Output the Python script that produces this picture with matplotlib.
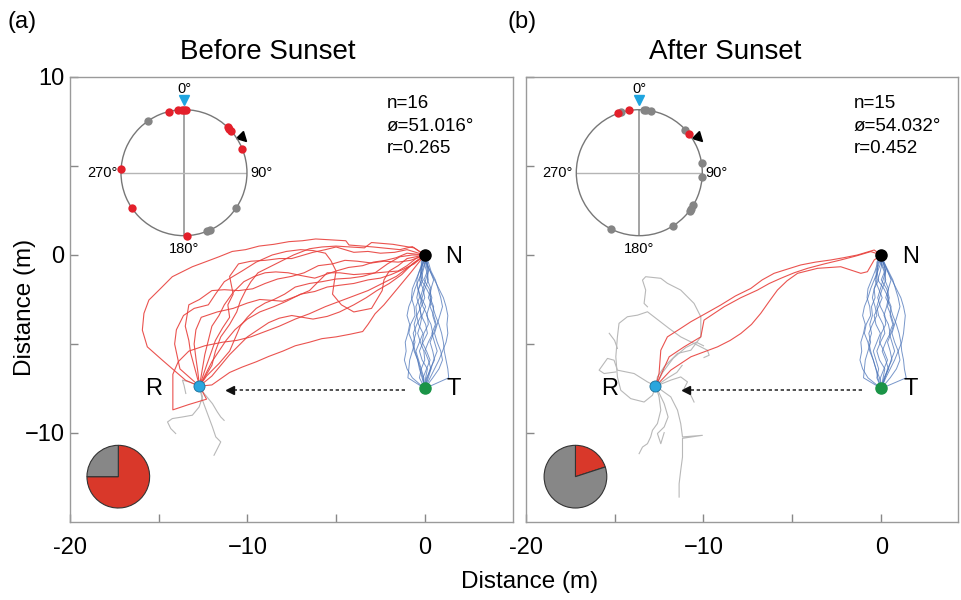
import numpy as np
import matplotlib.pyplot as plt
from matplotlib.markers import MarkerStyle
from matplotlib.transforms import Affine2D

plt.rcParams['font.family'] = ['Liberation Sans', 'DejaVu Sans']

# landmarks (m)
nest = (0.0, 0.0)
target = (0.0, -7.5)
release = (-12.7, -7.37)

panel_titles = ['Before Sunset', 'After Sunset']
panel_tags = ['(a)', '(b)']
n_ants = [16, 15]
mean_dir = ['51.016', '54.032']
r_len = ['0.265', '0.452']

# exit bearings on the circle (deg, clockwise from north)
before_red_deg = [346, 355, 358, 0, 2, 44, 46, 48, 68, 177, 236, 273]
before_gray_deg = [124, 156, 159, 325]
after_red_deg = [340, 351, 52]
after_gray_deg = [4, 6, 11, 47, 81, 94, 121, 125, 127, 148, 207, 343]
arrow_deg = [60, 60]

# pie: oriented (red) vs not oriented (gray)
before_pie = [12, 4]
after_pie = [3, 12]

# tracks (x, y in m)
before_red = [
    [(0, 0), (-0.7, 0.47), (-1.4, 0.3), (-2.2, 0.38), (-2.9, 0.45), (-3.5, 0.5), (-4.27, 0.56), (-4.45, 0.8),
     (-5.3, 0.85), (-6.15, 0.9), (-6.9, 0.8), (-7.65, 0.75), (-8.5, 0.6), (-9.34, 0.5), (-10.1, 0.3),
     (-10.85, 0.2), (-11.6, -0.1), (-12.4, -0.4), (-13.1, -0.66), (-14.23, -1.22), (-14.98, -1.97),
     (-15.55, -2.53), (-15.83, -3.28), (-15.92, -4.22), (-15.64, -5.16), (-14.79, -5.91), (-14.14, -6.47),
     (-13.48, -7.04), (-12.7, -7.37)],
    [(0, 0), (-1.0, 0.3), (-1.7, 0.15), (-2.5, 0.1), (-3.2, 0.2), (-4.0, 0.15), (-5.0, 0.45), (-5.6, 0.3),
     (-6.3, 0.15), (-7.5, -0.2), (-8.2, -0.2), (-9.0, -0.3), (-9.8, -0.35), (-10.5, -0.5), (-11.0, -1.2),
     (-10.8, -2.2), (-11.1, -2.8), (-11.0, -3.5), (-11.4, -4.1), (-11.8, -4.8), (-12.3, -6.2), (-12.7, -7.37)],
    [(0, 0), (-0.8, -0.3), (-1.5, -0.4), (-2.3, -0.35), (-3.0, -0.45), (-3.8, -0.35), (-4.5, -0.3),
     (-5.2, -0.5), (-6.0, -0.6), (-6.8, -1.0), (-7.5, -1.2), (-8.3, -1.35), (-9.0, -1.6), (-9.7, -1.9),
     (-10.5, -2.0), (-11.3, -1.95), (-12.0, -2.0), (-12.7, -2.5), (-13.3, -2.8), (-13.5, -4.0), (-13.3, -4.8),
     (-13.2, -5.5), (-12.9, -6.6), (-12.7, -7.37)],
    [(0, 0), (-0.6, -0.5), (-1.2, -0.8), (-1.9, -1.1), (-2.5, -1.3), (-3.2, -1.4), (-4.0, -1.6), (-4.8, -1.7),
     (-5.5, -1.8), (-6.2, -2.05), (-7.0, -2.2), (-7.8, -2.6), (-8.5, -2.9), (-9.3, -3.2), (-10.0, -3.6),
     (-10.7, -4.2), (-11.2, -4.8), (-11.6, -5.4), (-12.0, -6.0), (-12.7, -7.37)],
    [(0, 0), (-0.4, -0.5), (-0.8, -1.0), (-1.3, -1.6), (-1.8, -2.2), (-2.3, -2.8), (-2.8, -3.3), (-3.2, -3.9),
     (-3.5, -4.3), (-4.2, -4.45), (-5.0, -4.6), (-5.8, -4.7), (-6.5, -4.9), (-7.3, -5.1), (-8.0, -5.4),
     (-8.8, -5.7), (-9.5, -6.0), (-10.3, -6.3), (-11.0, -6.6), (-12.0, -7.3), (-12.7, -7.37)],
    [(0, 0), (-1.0, -0.2), (-1.5, -0.6), (-2.0, -0.9), (-2.3, -1.4), (-2.4, -2.0), (-2.7, -2.5), (-3.0, -3.0),
     (-3.5, -3.1), (-4.0, -3.2), (-4.7, -2.8), (-5.2, -2.2), (-5.1, -1.5), (-5.0, -0.9), (-5.3, -0.3),
     (-5.6, 0.1), (-6.3, 0.25), (-7.0, 0.3), (-7.8, 0.2), (-8.6, 0.0), (-9.5, -0.4), (-10.3, -0.9),
     (-11.3, -1.5), (-11.8, -2.2), (-12.2, -2.8), (-13.0, -3.0), (-13.6, -3.4), (-14.0, -4.2), (-14.1, -5.0),
     (-13.8, -6.4), (-12.7, -7.37)],
    [(0, 0), (-1.0, 0.1), (-1.6, -0.15), (-2.2, -0.3), (-2.9, -0.4), (-3.5, -0.6), (-4.3, -0.7), (-5.0, -0.9),
     (-5.6, -1.1), (-6.2, -1.3), (-7.0, -1.15), (-7.7, -1.0), (-8.4, -0.95), (-9.0, -1.0), (-9.6, -1.2),
     (-10.2, -1.5), (-10.8, -2.1), (-11.3, -2.8), (-11.6, -3.4), (-12.0, -4.0), (-12.2, -4.8), (-12.4, -5.6),
     (-12.7, -7.37)],
    [(0, 0), (-0.8, -0.6), (-1.6, -1.2), (-2.4, -1.6), (-3.2, -2.0), (-4.0, -2.3), (-4.8, -2.6), (-5.6, -2.9),
     (-6.5, -3.3), (-7.3, -3.6), (-8.2, -4.0), (-9.0, -4.3), (-9.8, -4.6), (-10.6, -4.8), (-11.4, -4.9),
     (-12.4, -5.1), (-13.3, -5.4), (-13.9, -6.0), (-14.2, -6.7), (-14.2, -7.7), (-14.2, -8.7), (-13.3, -8.4),
     (-12.3, -8.1), (-12.7, -7.37)],
    [(0, 0), (-0.6, 0.4), (-1.2, 0.5), (-1.8, 0.6), (-2.4, 0.65), (-3.0, 0.7), (-3.4, 0.4), (-4.2, 0.45),
     (-5.0, 0.5), (-5.8, 0.45), (-6.5, 0.35), (-7.4, 0.0), (-8.2, -0.4), (-8.8, -0.7), (-9.4, -1.0),
     (-9.8, -1.5), (-10.1, -2.0), (-10.4, -2.6), (-10.6, -3.2), (-11.0, -3.9), (-11.5, -4.6), (-11.8, -5.4),
     (-12.0, -6.2), (-12.7, -7.37)],
    [(0, 0), (-0.7, -0.5), (-1.3, -1.1), (-2.0, -1.6), (-2.7, -2.0), (-3.3, -2.4), (-4.0, -2.8), (-4.8, -3.2),
     (-5.5, -3.45), (-6.3, -3.6), (-6.9, -3.5), (-7.5, -3.4), (-8.2, -3.55), (-8.8, -3.8), (-9.4, -4.2),
     (-10.0, -4.6), (-10.5, -5.1), (-11.0, -5.6), (-11.5, -6.2), (-12.0, -6.8), (-12.7, -7.37)],
    [(0, 0), (-0.7, 0.0), (-1.4, -0.1), (-2.1, -0.5), (-2.8, -1.0), (-3.5, -1.2), (-4.2, -1.3), (-5.0, -1.35),
     (-5.8, -1.5), (-6.5, -1.6), (-7.3, -1.8), (-7.9, -2.2), (-8.5, -2.5), (-9.0, -2.7), (-9.5, -3.0),
     (-10.0, -3.5), (-10.4, -4.0), (-10.7, -4.7), (-11.0, -5.4), (-11.6, -6.1), (-12.3, -6.8), (-12.7, -7.37)],
    [(0, 0), (-0.5, -0.2), (-1.0, -0.6), (-1.5, -0.9), (-2.1, -0.95), (-2.7, -1.0), (-3.3, -1.05), (-4.0, -1.1),
     (-4.8, -1.0), (-5.5, -1.0), (-6.0, -1.5), (-6.5, -2.0), (-7.2, -2.3), (-8.0, -2.6), (-8.6, -2.55),
     (-9.3, -2.5), (-10.0, -2.7), (-10.8, -3.0), (-11.7, -3.2), (-12.6, -3.5), (-12.9, -4.2), (-13.0, -5.0),
     (-12.9, -5.8), (-12.8, -6.5), (-12.7, -7.37)],
]

before_gray = [
    [(-12.7, -7.37), (-12.53, -7.97), (-12.72, -8.54), (-13.1, -9.0), (-13.66, -9.1), (-14.23, -9.19),
     (-14.5, -9.38), (-14.32, -9.75), (-14.04, -10.03)],
    [(-12.7, -7.37), (-12.53, -8.16), (-12.25, -8.91), (-11.97, -9.66), (-11.78, -10.22), (-11.5, -10.5),
     (-11.69, -10.88), (-11.88, -11.25)],
    [(-12.7, -7.37), (-12.44, -7.78), (-11.97, -8.35), (-11.69, -8.82), (-11.5, -9.1), (-11.31, -9.29)],
    [(-12.7, -7.37), (-13.28, -7.13), (-13.66, -7.03), (-13.57, -7.32), (-13.47, -7.78)],
]

after_red = [
    [(-12.68, -7.37), (-12.5, -6.66), (-12.4, -5.35), (-12.03, -4.6), (-11.4, -4.2), (-10.71, -3.75),
     (-9.9, -3.3), (-9.03, -2.81), (-8.2, -2.3), (-7.34, -1.88), (-6.7, -1.4), (-6.03, -1.03), (-5.3, -0.8),
     (-4.53, -0.56), (-3.7, -0.4), (-2.84, -0.28), (-2.1, -0.15), (-1.34, 0.0), (-0.4, 0.28), (0, 0)],
    [(-12.68, -7.37), (-11.93, -5.72), (-11.09, -5.16), (-10.15, -4.6), (-9.97, -3.66), (-8.84, -2.91),
     (-7.9, -2.4), (-6.96, -1.97), (-6.3, -1.6), (-5.65, -1.31), (-4.9, -1.0), (-4.15, -0.75), (-3.2, -0.5),
     (-2.28, -0.28), (-1.4, -0.05), (-0.59, 0.19), (0, 0)],
    [(-12.68, -7.37), (-11.84, -6.47), (-10.71, -5.72), (-9.21, -5.16), (-8.5, -4.8), (-7.9, -4.41),
     (-7.3, -3.9), (-6.78, -3.28), (-6.3, -2.6), (-5.84, -1.97), (-5.3, -1.45), (-4.71, -1.03), (-3.59, -0.75),
     (-2.28, -0.66), (-1.15, -1.03), (-0.78, -0.94), (-0.4, -0.28), (0, 0)],
]

after_gray = [
    [(-12.68, -7.37), (-12.59, -6.85), (-12.21, -6.28), (-11.46, -5.53), (-10.71, -5.35), (-10.15, -4.6),
     (-10.15, -3.47), (-10.53, -2.72), (-11.28, -1.97), (-12.03, -1.59), (-12.4, -1.31), (-13.25, -1.22),
     (-13.43, -1.41), (-13.25, -1.97), (-13.34, -2.72), (-13.15, -2.91)],
    [(-12.68, -7.37), (-12.87, -7.88), (-13.34, -8.26), (-14.09, -8.07), (-14.65, -7.6), (-14.84, -6.85),
     (-14.93, -5.72), (-14.84, -4.6), (-14.75, -3.84), (-14.28, -3.47), (-13.71, -3.38), (-13.15, -3.19),
     (-11.93, -4.13), (-11.28, -4.6), (-10.53, -4.97), (-9.78, -5.35), (-9.68, -5.63), (-9.97, -5.76)],
    [(-12.68, -7.37), (-13.15, -7.13), (-13.9, -6.66), (-14.84, -6.47), (-15.03, -5.91), (-15.4, -5.81),
     (-15.87, -6.47), (-15.59, -6.66), (-14.93, -6.57)],
    [(-15.3, -4.4), (-15.0, -4.8), (-14.84, -5.25)],
    [(-12.68, -7.37), (-12.5, -7.97), (-12.4, -8.72), (-12.59, -9.47), (-12.87, -9.85), (-12.97, -10.22),
     (-13.15, -10.6), (-13.43, -10.79), (-13.62, -11.16)],
    [(-12.68, -7.37), (-12.21, -8.35), (-11.99, -9.1), (-12.21, -9.66), (-12.59, -10.03), (-12.4, -10.6),
     (-12.21, -9.98)],
    [(-12.68, -7.37), (-11.84, -7.97), (-11.46, -8.72), (-11.28, -9.47), (-11.18, -10.22), (-10.06, -10.13),
     (-11.18, -10.3), (-11.18, -11.35), (-11.28, -12.1), (-11.37, -12.85), (-11.37, -13.6)],
    [(-12.68, -7.37), (-11.84, -7.03), (-11.28, -6.85), (-10.9, -7.13), (-11.09, -7.5), (-10.71, -7.88),
     (-10.53, -8.26)],
    [(-12.68, -7.37), (-12.3, -6.6), (-11.7, -5.8), (-11.0, -5.2), (-10.4, -4.9), (-10.0, -5.1)],
    [(-12.68, -7.37), (-12.0, -6.9), (-11.5, -6.6), (-11.2, -6.2)],
]

# homing to nest (blue), x per track at the shared y stations
blue_y = [0, -0.4, -0.9, -1.4, -1.9, -2.4, -2.9, -3.4, -3.9, -4.4, -4.9, -5.4, -5.9, -6.4, -6.9, -7.5]
before_blue_x = [
    [0, -0.1, -0.25, -0.2, -0.35, -0.3, -0.5, -0.45, -0.6, -0.5, -0.65, -0.55, -0.4, -0.3, -0.15, 0],
    [0, 0.1, 0.2, 0.15, 0.35, 0.3, 0.5, 0.45, 0.6, 0.4, 0.55, 0.7, 0.5, 0.35, 0.2, 0],
    [0, 0.05, 0.3, 0.55, 0.8, 1.05, 1.2, 1.3, 1.25, 1.3, 1.2, 1.0, 0.8, 0.55, 0.3, 0],
    [0, -0.15, -0.3, -0.5, -0.7, -0.75, -0.6, -0.55, -0.8, -0.9, -0.7, -0.6, -0.4, -0.25, -0.1, 0],
    [0, 0.15, 0.2, 0.05, -0.1, -0.25, -0.1, 0.15, 0.2, -0.05, -0.15, 0.1, 0.3, 0.1, -0.1, 0],
    [0, -0.05, 0.1, 0.2, 0.0, -0.15, -0.3, -0.2, 0.05, 0.15, -0.1, -0.3, -0.15, 0.15, 0.05, 0],
    [0, 0.2, 0.35, 0.6, 0.75, 0.9, 1.0, 0.85, 0.7, 0.55, 0.7, 0.9, 1.0, 0.8, 0.45, 0],
    [0, -0.1, -0.2, -0.1, -0.35, -0.45, -0.3, -0.2, -0.45, -0.65, -0.55, -0.7, -0.85, -0.9, -0.95, 0],
    [0, 0.05, -0.1, -0.2, 0.1, 0.35, 0.25, 0.1, 0.35, 0.45, 0.2, 0.0, 0.2, 0.35, 0.1, 0],
    [0, 0.0, -0.15, -0.3, -0.1, 0.0, -0.2, -0.45, -0.35, -0.1, -0.3, -0.5, -0.35, -0.2, -0.3, 0],
    [0, 0.1, 0.3, 0.5, 0.35, 0.2, 0.45, 0.6, 0.8, 0.95, 1.05, 1.1, 1.2, 1.3, 1.35, 0],
    [0, -0.2, -0.15, -0.35, -0.55, -0.7, -0.9, -1.0, -0.85, -0.95, -1.1, -1.05, -1.15, -1.0, -0.7, 0],
    [0, 0.05, 0.15, -0.05, 0.25, 0.4, 0.3, 0.5, 0.65, 0.5, 0.3, 0.45, 0.55, 0.3, 0.15, 0],
    [0, -0.05, -0.3, -0.45, -0.4, -0.2, 0.05, -0.15, -0.25, -0.4, -0.25, -0.05, 0.0, -0.2, -0.05, 0],
]
after_blue_x = [
    [0, -0.15, -0.3, -0.25, -0.4, -0.35, -0.55, -0.5, -0.65, -0.55, -0.7, -0.6, -0.45, -0.3, -0.2, 0],
    [0, 0.1, 0.25, 0.2, 0.4, 0.35, 0.55, 0.5, 0.65, 0.45, 0.6, 0.75, 0.55, 0.4, 0.2, 0],
    [0, 0.1, 0.35, 0.6, 0.85, 1.1, 1.25, 1.35, 1.3, 1.25, 1.15, 0.95, 0.75, 0.5, 0.25, 0],
    [0, -0.2, -0.35, -0.55, -0.75, -0.8, -0.65, -0.6, -0.85, -0.95, -0.75, -0.65, -0.45, -0.3, -0.1, 0],
    [0, 0.1, 0.25, 0.1, -0.05, -0.2, -0.05, 0.2, 0.25, 0.0, -0.1, 0.15, 0.35, 0.15, -0.05, 0],
    [0, -0.05, 0.15, 0.25, 0.05, -0.1, -0.25, -0.15, 0.1, 0.2, -0.05, -0.25, -0.1, 0.2, 0.1, 0],
    [0, 0.15, 0.4, 0.65, 0.8, 0.95, 1.05, 0.9, 0.75, 0.6, 0.75, 0.95, 1.05, 0.85, 0.5, 0],
    [0, -0.1, -0.25, -0.15, -0.4, -0.5, -0.35, -0.25, -0.5, -0.7, -0.6, -0.75, -0.9, -0.95, -1.0, 0],
    [0, 0.05, -0.05, -0.2, 0.15, 0.4, 0.3, 0.15, 0.4, 0.5, 0.25, 0.05, 0.25, 0.4, 0.15, 0],
    [0, 0.0, -0.2, -0.35, -0.15, 0.05, -0.15, -0.4, -0.3, -0.05, -0.25, -0.45, -0.3, -0.15, -0.25, 0],
    [0, 0.15, 0.35, 0.55, 0.4, 0.25, 0.5, 0.65, 0.85, 1.0, 1.1, 1.15, 1.25, 1.3, 1.4, 0],
    [0, -0.25, -0.2, -0.4, -0.6, -0.75, -0.95, -1.05, -0.9, -1.0, -1.15, -1.1, -1.2, -1.05, -0.75, 0],
    [0, 0.0, 0.2, 0.0, 0.3, 0.45, 0.35, 0.55, 0.7, 0.55, 0.35, 0.5, 0.6, 0.35, 0.2, 0],
]

red = '#e8403c'
gray_trk = '#b8b8b8'
blue = '#4a73b8'
frame = '#9a9a9a'

fig = plt.figure(figsize=(9.61, 6.0), dpi=100)
ax_a = fig.add_axes([0.0728, 0.13, 0.4615, 0.7417])
ax_b = fig.add_axes([0.547, 0.13, 0.4498, 0.7417])

panels = [
    (ax_a, 5.0, before_red, before_gray, before_blue_x),
    (ax_b, 4.31, after_red, after_gray, after_blue_x),
]

for i, (ax, xmax, reds, grays, blues) in enumerate(panels):
    for tr in grays:
        xs, ys = zip(*tr)
        ax.plot(xs, ys, color=gray_trk, lw=0.8, zorder=2)
    for tr in reds:
        xs, ys = zip(*tr)
        ax.plot(xs, ys, color=red, lw=0.8, alpha=0.9, zorder=3)
    for bx in blues:
        ax.plot(bx, blue_y, color=blue, lw=0.7, alpha=0.75, zorder=3)

    # dotted displacement arrow T -> R
    ax.plot([-1.1, -10.9], [-7.6, -7.6], color='#333333', lw=1.2, ls=(0, (2, 1.6)), zorder=4)
    ax.plot([-11.0], [-7.6], marker='<', color='#111111', ms=6, zorder=4)

    ax.plot(*nest, 'o', color='black', ms=8, zorder=5)
    ax.plot(*target, 'o', color='#1a9447', ms=8, zorder=5)
    ax.plot(*release, 'o', color='#2aa6de', mec='#1c6f99', mew=0.6, ms=8, zorder=5)
    ax.text(1.65, -0.1, 'N', fontsize=17, ha='center', va='center')
    ax.text(1.65, -7.55, 'T', fontsize=17, ha='center', va='center')
    ax.text(-15.3, -7.55, 'R', fontsize=17, ha='center', va='center')

    sx = -2.13 if i == 0 else -1.55
    ax.text(sx, 8.5, 'n=%d' % n_ants[i], fontsize=13.5, va='center')
    ax.text(sx, 7.2, '\u00f8=%s\u00b0' % mean_dir[i], fontsize=13.5, va='center')
    ax.text(sx, 5.97, 'r=%s' % r_len[i], fontsize=13.5, va='center')

    ax.set_xlim(-20, xmax)
    ax.set_ylim(-15, 10)
    ax.set_xticks([-20, -15, -10, -5, 0])
    ax.set_xticklabels(['-20', '', '\u221210', '', '0'])
    ax.set_yticks([10, 5, 0, -5, -10])
    if i == 0:
        ax.set_yticklabels(['10', '', '0', '', '\u221210'])
    else:
        ax.set_yticklabels([])
    ax.tick_params(direction='in', length=6, width=1, color='#888888', labelsize=17)
    ax.tick_params(axis='x', pad=11)
    ax.tick_params(axis='y', pad=4)
    for sp in ax.spines.values():
        sp.set_color(frame)
        sp.set_linewidth(1)

fig.text(0.279, 0.913, panel_titles[0], fontsize=20, ha='center', va='center')
fig.text(0.7545, 0.913, panel_titles[1], fontsize=20, ha='center', va='center')
fig.text(0.023, 0.963, panel_tags[0], fontsize=17, ha='center', va='center')
fig.text(0.543, 0.963, panel_tags[1], fontsize=17, ha='center', va='center')
fig.text(0.5515, 0.03, 'Distance (m)', fontsize=17.5, ha='center', va='center')
fig.text(0.026, 0.488, 'Distance (m)', fontsize=17.5, ha='center', va='center', rotation=90)

# circular insets
circ_pos = [[0.1259, 0.6072, 0.1311, 0.21], [0.5997, 0.6072, 0.1311, 0.21]]
circ_data = [(before_red_deg, before_gray_deg), (after_red_deg, after_gray_deg)]
for i, pos in enumerate(circ_pos):
    cx = fig.add_axes(pos, projection='polar')
    cx.patch.set_alpha(0)
    cx.set_theta_zero_location('N')
    cx.set_theta_direction(-1)
    cx.set_ylim(0, 1)
    cx.grid(False)
    cx.set_xticks([])
    cx.set_yticks([])
    cx.spines['polar'].set_color('#777777')
    cx.spines['polar'].set_linewidth(1)
    cx.plot(np.radians([0, 0, 180]), [1, 0, 1], color='#8a8a8a', lw=1.1)
    cx.plot(np.radians([90, 90, 270]), [1, 0, 1], color='#b5b5b5', lw=1.0)
    reds_d, grays_d = circ_data[i]
    cx.plot(np.radians(grays_d), [1] * len(grays_d), 'o', color='#858585', ms=6, mec='none', clip_on=False, zorder=4)
    cx.plot(np.radians(reds_d), [1] * len(reds_d), 'o', color='#e3202b', ms=6, mec='none', clip_on=False, zorder=5)
    cx.plot([0], [1.15], marker='v', color='#1fa5e0', ms=7, clip_on=False)
    tri = MarkerStyle('^', transform=Affine2D().rotate_deg(-135))
    cx.plot(np.radians([arrow_deg[i]]), [1.09], marker=tri, color='black', ms=7, clip_on=False)
    cx.text(0, 1.33, '0\u00b0', fontsize=10.5, ha='center', va='center')
    cx.text(np.radians(90), 1.05, '90\u00b0', fontsize=10.5, ha='left', va='center')
    cx.text(np.radians(270), 1.06, '270\u00b0', fontsize=10.5, ha='right', va='center')
    cx.text(np.radians(180), 1.1, '180\u00b0', fontsize=10.5, ha='center', va='top')

# pies
pie_pos = [[0.0895, 0.1517, 0.0672, 0.1077], [0.5652, 0.1517, 0.0672, 0.1077]]
pie_data = [before_pie, after_pie]
for i, pos in enumerate(pie_pos):
    px = fig.add_axes(pos)
    px.pie(pie_data[i], colors=['#d9382a', '#878787'], startangle=90, counterclock=False,
           wedgeprops=dict(edgecolor='#333333', linewidth=0.8))
    px.set_xlim(-1.03, 1.03)
    px.set_ylim(-1.03, 1.03)
    px.set_aspect('equal')

fig.savefig('out.png', dpi=100)
